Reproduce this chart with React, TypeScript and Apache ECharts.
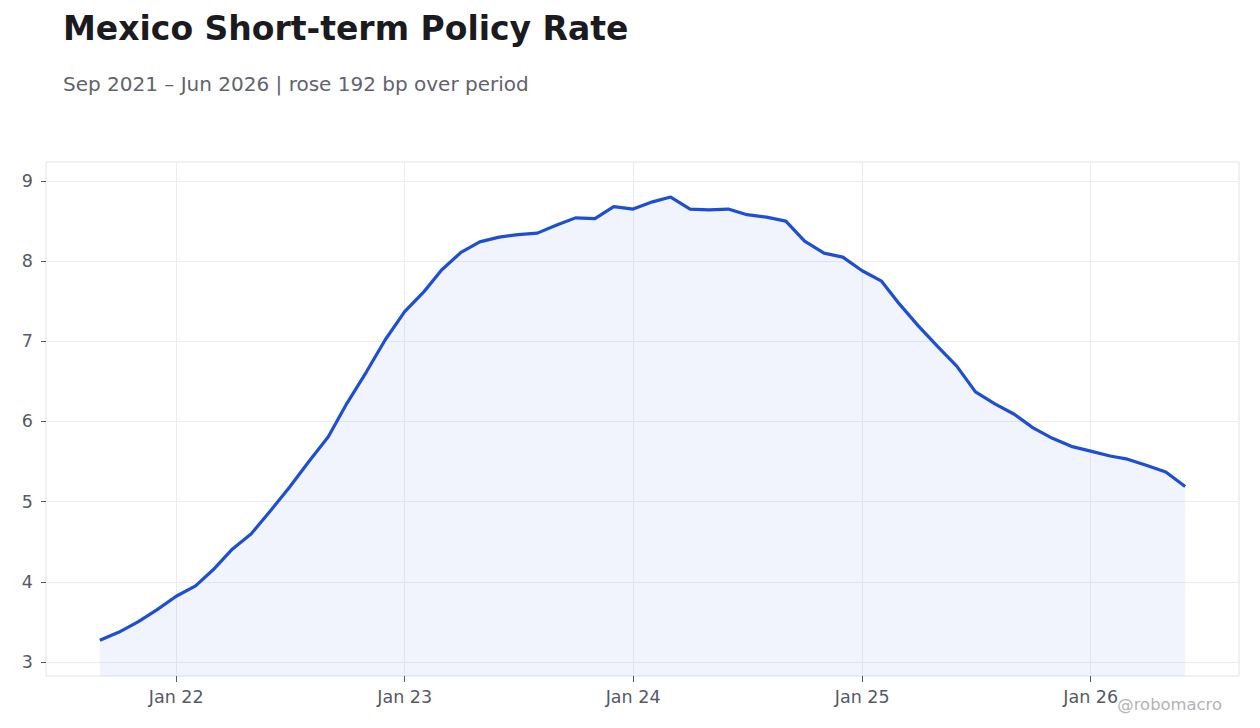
import React, { useEffect, useRef } from 'react';
import * as echarts from 'echarts';

// monthly observations, Sep 2021 .. Jun 2026
const months = [
  '2021-09', '2021-10', '2021-11', '2021-12',
  '2022-01', '2022-02', '2022-03', '2022-04', '2022-05', '2022-06',
  '2022-07', '2022-08', '2022-09', '2022-10', '2022-11', '2022-12',
  '2023-01', '2023-02', '2023-03', '2023-04', '2023-05', '2023-06',
  '2023-07', '2023-08', '2023-09', '2023-10', '2023-11', '2023-12',
  '2024-01', '2024-02', '2024-03', '2024-04', '2024-05', '2024-06',
  '2024-07', '2024-08', '2024-09', '2024-10', '2024-11', '2024-12',
  '2025-01', '2025-02', '2025-03', '2025-04', '2025-05', '2025-06',
  '2025-07', '2025-08', '2025-09', '2025-10', '2025-11', '2025-12',
  '2026-01', '2026-02', '2026-03', '2026-04', '2026-05', '2026-06',
];

const rates = [
  3.27, 3.37, 3.5, 3.65,
  3.82, 3.95, 4.15, 4.41, 4.6, 4.89,
  5.18, 5.5, 5.81, 6.23, 6.62, 7.02,
  7.37, 7.62, 7.89, 8.11, 8.24, 8.3,
  8.33, 8.35, 8.45, 8.54, 8.53, 8.68,
  8.65, 8.74, 8.8, 8.65, 8.64, 8.65,
  8.58, 8.55, 8.5, 8.25, 8.1, 8.05,
  7.88, 7.75, 7.47, 7.19, 6.94, 6.69,
  6.37, 6.22, 6.09, 5.92, 5.79, 5.69,
  5.63, 5.57, 5.53, 5.45, 5.37, 5.19,
];

const xTicks = ['2022-01', '2023-01', '2024-01', '2025-01', '2026-01'];
const yTicks = [3, 4, 5, 6, 7, 8, 9];
const monthNames = ['Jan', 'Feb', 'Mar', 'Apr', 'May', 'Jun', 'Jul', 'Aug', 'Sep', 'Oct', 'Nov', 'Dec'];

const FONT = '"DejaVu Sans", Verdana, sans-serif';
const LINE = '#1d4ed8';
const TICK = '#555a66';

const toTime = (m: string) => new Date(m + '-01T00:00:00Z').getTime();

const App: React.FC = () => {
  const chartRef = useRef<HTMLDivElement>(null);

  useEffect(() => {
    document.body.style.margin = '0';
    if (!chartRef.current) return;
    const chart = echarts.init(chartRef.current, undefined, { renderer: 'svg' });

    const tickTimes = xTicks.map(toTime);

    const option = {
      animation: false,
      backgroundColor: '#ffffff',
      textStyle: { fontFamily: FONT },
      title: [
        {
          text: 'Mexico Short-term Policy Rate',
          left: 58,
          top: 7,
          textStyle: { fontFamily: FONT, fontSize: 33, fontWeight: 'bold', color: '#1a1a1f' },
        },
        {
          text: 'Sep 2021 – Jun 2026 | rose 192 bp over period',
          left: 58,
          top: 69,
          textStyle: { fontFamily: FONT, fontSize: 20, fontWeight: 'normal', color: '#5f6370' },
        },
      ],
      grid: { left: 46, right: 21, top: 162, bottom: 52, show: true, borderColor: '#e2e2e8', borderWidth: 1 },
      xAxis: {
        type: 'value',
        min: Date.UTC(2021, 5, 7),
        max: Date.UTC(2026, 7, 26),
        axisLine: { show: false },
        axisTick: { show: true, customValues: tickTimes, length: 6, lineStyle: { color: TICK } },
        axisLabel: {
          customValues: tickTimes,
          fontSize: 17.5,
          color: TICK,
          margin: 12,
          fontFamily: FONT,
          formatter: (v: number) => {
            const d = new Date(v);
            return monthNames[d.getUTCMonth()] + ' ' + String(d.getUTCFullYear()).slice(2);
          },
        },
        splitLine: { show: true, lineStyle: { color: '#ececf0', width: 1 } },
      },
      yAxis: {
        type: 'value',
        min: 2.825,
        max: 9.237,
        axisLine: { show: false },
        axisTick: { show: true, customValues: yTicks, length: 5, lineStyle: { color: TICK } },
        axisLabel: {
          customValues: yTicks,
          fontSize: 17.5,
          color: TICK,
          margin: 13,
          fontFamily: FONT,
        },
        splitLine: { show: true, lineStyle: { color: '#ececf0', width: 1 } },
      },
      series: [
        {
          type: 'line',
          data: months.map((m, i) => [toTime(m), rates[i]]),
          showSymbol: false,
          lineStyle: { color: LINE, width: 3.2 },
          itemStyle: { color: LINE },
          areaStyle: { color: 'rgba(29,78,216,0.09)', origin: 'start' },
        },
      ],
      graphic: [
        {
          type: 'text',
          right: 38,
          top: 696,
          style: { text: '@robomacro', fontSize: 16.4, fill: '#b3b3b8', fontFamily: FONT },
        },
      ],
    };

    chart.setOption(option);
    return () => {
      chart.dispose();
    };
  }, []);

  return <div ref={chartRef} style={{ width: 1260, height: 728 }} />;
};

export default App;
